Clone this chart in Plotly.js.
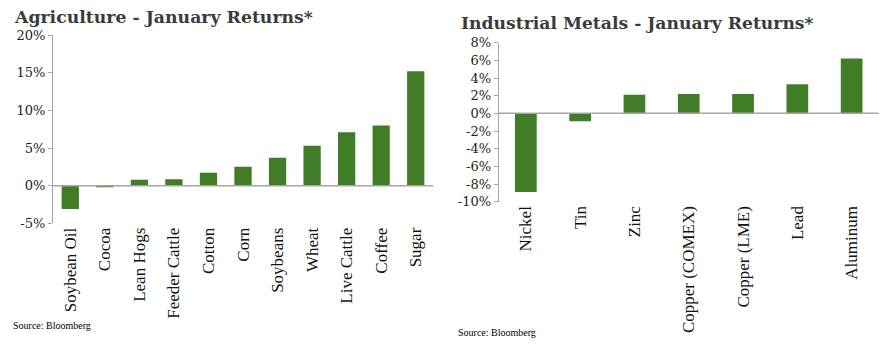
<!DOCTYPE html>
<html><head><meta charset="utf-8">
<script src="https://cdn.plot.ly/plotly-3.0.1.min.js"></script>
<style>html,body{margin:0;padding:0;background:#fff}#chart{width:895px;height:360px}</style>
</head><body><div id="chart"></div>
<script>
var agriCategories = ["Soybean Oil","Cocoa","Lean Hogs","Feeder Cattle","Cotton","Corn","Soybeans","Wheat","Live Cattle","Coffee","Sugar"];
var agriReturns = [-3.1,-0.2,0.8,0.85,1.7,2.5,3.7,5.3,7.1,8.0,15.2];
var agriTicks = [-5,0,5,10,15,20];

var metalCategories = ["Nickel","Tin","Zinc","Copper (COMEX)","Copper (LME)","Lead","Aluminum"];
var metalReturns = [-8.9,-0.9,2.1,2.2,2.2,3.3,6.2];
var metalTicks = [-10,-8,-6,-4,-2,0,2,4,6,8];

var W=895,H=360;
var green = "#417d27";
var axisGray = "#a6a6a6";
var titleColor = "#3b3b3b";
var tickFont = {family:"DejaVu Serif", size:13, color:"#222"};
var catFont = {family:"Liberation Serif", size:17, color:"#111"};

function px(x){return x/W;}
function py(y){return 1-y/H;}

var traces = [
 {type:"bar", x:agriCategories, y:agriReturns, xaxis:"x", yaxis:"y", marker:{color:green, line:{width:0}}, width:0.5, hoverinfo:"x+y"},
 {type:"bar", x:metalCategories, y:metalReturns, xaxis:"x2", yaxis:"y2", marker:{color:green, line:{width:0}}, width:0.4, hoverinfo:"x+y"}
];

function yAxis(range, ticks, domain, anchor){
  return {range:range, domain:domain, anchor:anchor, tickvals:ticks, ticktext:ticks.map(function(t){return t+"%";}),
    showgrid:false, zeroline:false, showline:true, linecolor:axisGray, linewidth:1,
    ticks:"outside", ticklen:4, tickcolor:axisGray, tickfont:tickFont, fixedrange:true};
}
function xAxis(domain, anchor){
  return {domain:domain, anchor:anchor, type:"category", tickangle:-90, showgrid:false, showline:false,
    zeroline:false, ticks:"", tickfont:catFont, fixedrange:true};
}

var layout = {
  width:W, height:H, margin:{l:0,r:0,t:0,b:0}, paper_bgcolor:"#fff", plot_bgcolor:"rgba(0,0,0,0)",
  showlegend:false, bargap:0.5,
  xaxis: xAxis([px(53),px(433)], "y"),
  yaxis: yAxis([-5,20], agriTicks, [py(223.3),py(35.1)], "x"),
  xaxis2: xAxis([px(498.7),px(878.8)], "y2"),
  yaxis2: yAxis([-10,8], metalTicks, [py(201.7),py(42.7)], "x2"),
  shapes:[
    {type:"line", xref:"x domain", yref:"y", x0:0, x1:1, y0:0, y1:0, line:{color:axisGray,width:1.5}},
    {type:"line", xref:"x2 domain", yref:"y2", x0:0, x1:1, y0:0, y1:0, line:{color:axisGray,width:1.5}}
  ],
  annotations:[
    {text:"<b>Agriculture - January Returns*</b>", xref:"paper", yref:"paper", x:px(12), y:py(17), xanchor:"left", yanchor:"middle", showarrow:false, font:{family:"DejaVu Serif", size:17.3, color:titleColor}},
    {text:"<b>Industrial Metals - January Returns*</b>", xref:"paper", yref:"paper", x:px(459), y:py(23), xanchor:"left", yanchor:"middle", showarrow:false, font:{family:"DejaVu Serif", size:17.2, color:titleColor}},
    {text:"Source: Bloomberg", xref:"paper", yref:"paper", x:px(11), y:py(325), xanchor:"left", yanchor:"middle", showarrow:false, font:{family:"Liberation Serif", size:10, color:"#000"}},
    {text:"Source: Bloomberg", xref:"paper", yref:"paper", x:px(456), y:py(332), xanchor:"left", yanchor:"middle", showarrow:false, font:{family:"Liberation Serif", size:10, color:"#000"}}
  ]
};
Plotly.newPlot("chart", traces, layout, {displayModeBar:false, staticPlot:true});
</script></body></html>
